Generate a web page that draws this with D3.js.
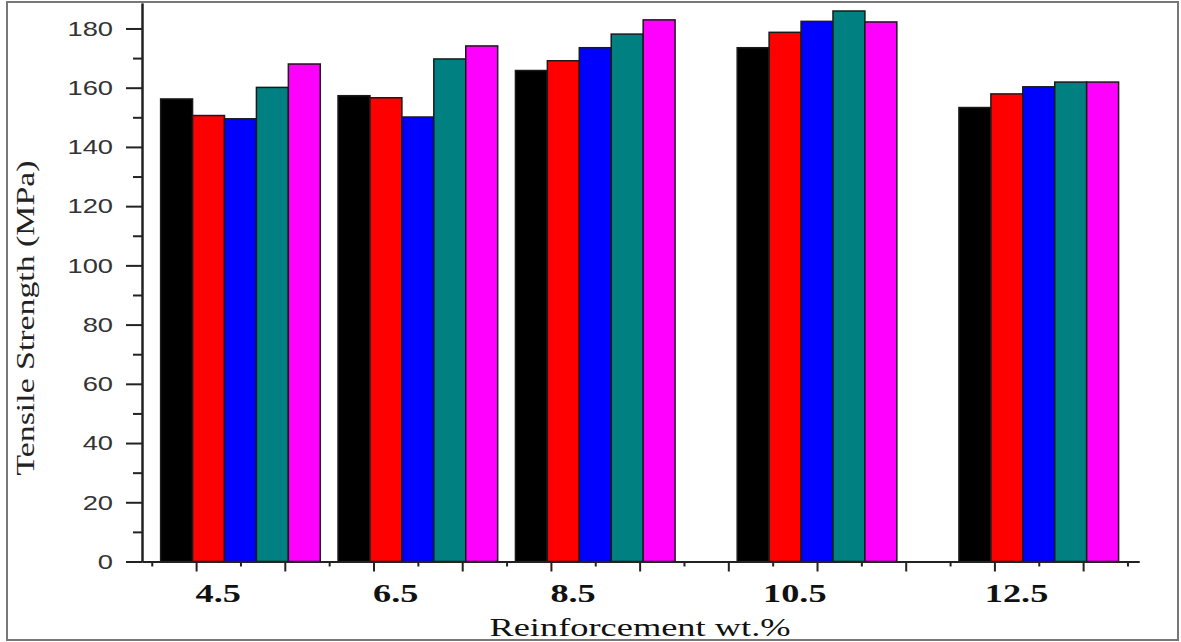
<!DOCTYPE html>
<html lang="en">
	<head>
		<meta charset="utf-8">
		<title>Tensile strength vs reinforcement</title>
		<script src="https://d3js.org/d3.v7.min.js"></script>
		<style>
			body { margin: 0; background: #fff; }
		</style>
	</head>
	<body>
		<script type="text/javascript">
			// window size setup
			var w = 1181
			var h = 642

			// data setup
			var categories = ["4.5", "6.5", "8.5", "10.5", "12.5"]
			var groupPos = [0.5, 2.5, 4.5, 7, 9.5]		// where each group sits on the x axis (axis units)
			var seriesA = [156.2, 157.3, 165.8, 173.5, 153.3]	// black
			var seriesB = [150.6, 156.6, 169.1, 178.7, 157.9]	// red
			var seriesC = [149.5, 150.1, 173.5, 182.4, 160.3]	// blue
			var seriesD = [160.1, 169.7, 178.1, 185.9, 161.9]	// teal
			var seriesE = [168.0, 174.1, 182.9, 182.2, 161.9]	// magenta
			var colors = ["#000000", "#ff0000", "#0000ff", "#008080", "#ff00ff"]
			var yTicks = [0, 20, 40, 60, 80, 100, 120, 140, 160, 180]

			var allSeries = [seriesA, seriesB, seriesC, seriesD, seriesE]
			var bars = []
			allSeries.forEach(function(s, si){
				s.forEach(function(v, gi){
					bars.push({ s: si, g: gi, value: v })
				})
			})

			// scale setup
			var xScale = d3.scaleLinear()
							.domain([-0.61, 10.63])
							.range([142, 1139])
			var yScale = d3.scaleLinear()
							.domain([0, 188.6])
							.range([561.5, 3])

			var groupWidth = 1.8
			var barWidth = groupWidth / allSeries.length

			// stretch text horizontally, the original picture is wide
			function stretch(sel, k){
				sel.each(function(){
					var len = this.getComputedTextLength()
					d3.select(this)
						.attr("textLength", len * k)
						.attr("lengthAdjust", "spacingAndGlyphs")
				})
			}

			// create SVG
			var svg = d3.select("body")
						.append("svg")
						.attr("width", w)
						.attr("height", h)

			svg.append("rect")
				.attr("width", w)
				.attr("height", h)
				.attr("fill", "white")

			// bars
			svg.selectAll("rect.bar")
				.data(bars)
				.enter()
				.append("rect")
				.attr("class", "bar")
				.attr("x", function(d){
					return xScale(groupPos[d.g] - groupWidth / 2 + d.s * barWidth)
				})
				.attr("y", function(d){
					return yScale(d.value)
				})
				.attr("width", function(d){
					return xScale(barWidth) - xScale(0)
				})
				.attr("height", function(d){
					return yScale(0) - yScale(d.value)
				})
				.attr("fill", function(d){
					return colors[d.s]
				})
				.attr("stroke", "#1a1a1a")
				.attr("stroke-width", 1.5)

			// y axis: major + minor ticks
			var yMinor = svg.append("g")
				.attr("transform", "translate(142,0)")
				.call(d3.axisLeft(yScale)
					.tickValues(d3.range(10, 180, 20))
					.tickSize(9)
					.tickSizeOuter(0)
					.tickFormat(""))

			var yAxis = svg.append("g")
				.attr("transform", "translate(142,0)")
				.call(d3.axisLeft(yScale)
					.tickValues(yTicks)
					.tickSize(16)
					.tickSizeOuter(0)
					.tickPadding(13))

			yAxis.selectAll("text")
				.attr("font-family", "'Liberation Sans', Arial, sans-serif")
				.attr("font-size", "21px")
				.attr("fill", "#333")
				.call(stretch, 1.3)

			// x axis: major + minor ticks, no labels
			var xMinor = svg.append("g")
				.attr("transform", "translate(0," + yScale(0) + ")")
				.call(d3.axisBottom(xScale)
					.tickValues(d3.range(-0.5, 11, 1))
					.tickSize(5)
					.tickSizeOuter(0)
					.tickFormat(""))

			var xAxis = svg.append("g")
				.attr("transform", "translate(0," + yScale(0) + ")")
				.call(d3.axisBottom(xScale)
					.tickValues(d3.range(0, 11))
					.tickSize(10)
					.tickSizeOuter(0)
					.tickFormat(""))

			svg.selectAll(".domain, .tick line")
				.attr("stroke", "#222")
				.attr("stroke-width", 2)

			// category labels
			svg.selectAll("text.cat")
				.data(categories)
				.enter()
				.append("text")
				.attr("class", "cat")
				.text(function(d){ return d })
				.attr("x", function(d, i){
					return xScale(groupPos[i] - 0.25)
				})
				.attr("y", 602)
				.attr("text-anchor", "middle")
				.attr("font-family", "'Liberation Serif', 'Times New Roman', serif")
				.attr("font-weight", "bold")
				.attr("font-size", "25px")
				.attr("fill", "#111")
				.call(stretch, 1.45)

			// axis titles
			svg.append("text")
				.text("Reinforcement wt.%")
				.attr("x", 640)
				.attr("y", 636)
				.attr("text-anchor", "middle")
				.attr("font-family", "'Liberation Serif', 'Times New Roman', serif")
				.attr("font-size", "26px")
				.attr("fill", "#111")
				.call(stretch, 1.4)

			svg.append("text")
				.text("Tensile Strength (MPa)")
				.attr("transform", "translate(34,318) rotate(-90)")
				.attr("text-anchor", "middle")
				.attr("font-family", "'Liberation Serif', 'Times New Roman', serif")
				.attr("font-size", "26px")
				.attr("fill", "#222")
				.call(stretch, 1.3)

			// outer frame
			svg.append("rect")
				.attr("x", 7)
				.attr("y", 2)
				.attr("width", 1171)
				.attr("height", 638)
				.attr("fill", "none")
				.attr("stroke", "#777")
				.attr("stroke-width", 2)
		</script>
	</body>
</html>
